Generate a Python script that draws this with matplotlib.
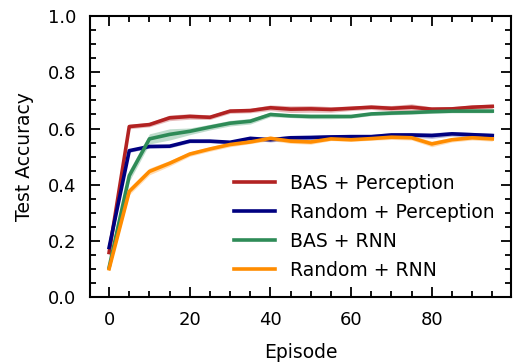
import numpy as np
import matplotlib.pyplot as plt

episodes = list(range(0, 100, 5))

bas_perception = [0.158, 0.607, 0.614, 0.638, 0.643, 0.640, 0.662, 0.664, 0.674, 0.669,
                  0.670, 0.668, 0.672, 0.676, 0.672, 0.676, 0.669, 0.670, 0.676, 0.679]
bas_perception_std = [0.015, 0.008, 0.008, 0.010, 0.010, 0.008, 0.008, 0.008, 0.010, 0.012,
                      0.012, 0.010, 0.008, 0.008, 0.010, 0.012, 0.008, 0.008, 0.008, 0.008]

random_perception = [0.176, 0.521, 0.536, 0.537, 0.555, 0.555, 0.551, 0.565, 0.560, 0.567,
                     0.568, 0.570, 0.571, 0.571, 0.577, 0.577, 0.575, 0.581, 0.578, 0.575]
random_perception_std = [0.008, 0.006, 0.006, 0.006, 0.006, 0.006, 0.006, 0.006, 0.008, 0.008,
                         0.008, 0.008, 0.008, 0.008, 0.008, 0.008, 0.010, 0.008, 0.008, 0.008]

bas_rnn = [0.105, 0.432, 0.563, 0.579, 0.590, 0.605, 0.619, 0.626, 0.650, 0.645,
           0.643, 0.643, 0.643, 0.652, 0.655, 0.657, 0.660, 0.662, 0.662, 0.662]
bas_rnn_std = [0.008, 0.020, 0.018, 0.020, 0.012, 0.010, 0.010, 0.010, 0.008, 0.006,
               0.008, 0.008, 0.006, 0.006, 0.006, 0.006, 0.006, 0.006, 0.006, 0.006]

random_rnn = [0.100, 0.376, 0.447, 0.476, 0.509, 0.527, 0.543, 0.552, 0.565, 0.555,
              0.552, 0.563, 0.560, 0.564, 0.569, 0.567, 0.545, 0.560, 0.567, 0.563]
random_rnn_std = [0.006, 0.012, 0.012, 0.010, 0.008, 0.008, 0.008, 0.006, 0.008, 0.008,
                  0.008, 0.006, 0.006, 0.006, 0.008, 0.008, 0.010, 0.008, 0.008, 0.008]

series = [
    ("BAS + Perception", bas_perception, bas_perception_std, "#b22222"),
    ("Random + Perception", random_perception, random_perception_std, "#000080"),
    ("BAS + RNN", bas_rnn, bas_rnn_std, "#2e8b57"),
    ("Random + RNN", random_rnn, random_rnn_std, "#ff8c00"),
]

fig, ax = plt.subplots(figsize=(5.14, 3.62), dpi=100)

x = np.array(episodes)
for label, mean, std, color in series:
    mean = np.array(mean)
    std = np.array(std)
    ax.fill_between(x, mean - std, mean + std, color=color, alpha=0.3, linewidth=0)
    ax.plot(x, mean, color=color, linewidth=2.6, label=label)

ax.set_ylim(0, 1)
ax.set_xlim(-4.75, 99.75)
ax.set_xticks([0, 20, 40, 60, 80])
ax.set_xticks(np.arange(0, 100, 5), minor=True)
ax.set_yticks(np.arange(0, 1.01, 0.2))
ax.set_yticks(np.arange(0, 1.01, 0.05), minor=True)
ax.tick_params(which="both", direction="in", top=True, right=True, labelsize=13, width=1.3)
ax.tick_params(which="major", length=7, pad=10)
ax.tick_params(which="minor", length=4)
for sp in ax.spines.values():
    sp.set_linewidth(1.5)

ax.set_xlabel("Episode", fontsize=13.5, labelpad=10)
ax.set_ylabel("Test Accuracy", fontsize=13.5, labelpad=10)

ax.legend(loc="lower right", frameon=False, fontsize=13.5, handlelength=2.2,
          handletextpad=0.8, labelspacing=0.54, bbox_to_anchor=(1.0, 0.0))

fig.subplots_adjust(left=0.175, right=0.995, top=0.955, bottom=0.18)
fig.savefig("out.png", dpi=100)
